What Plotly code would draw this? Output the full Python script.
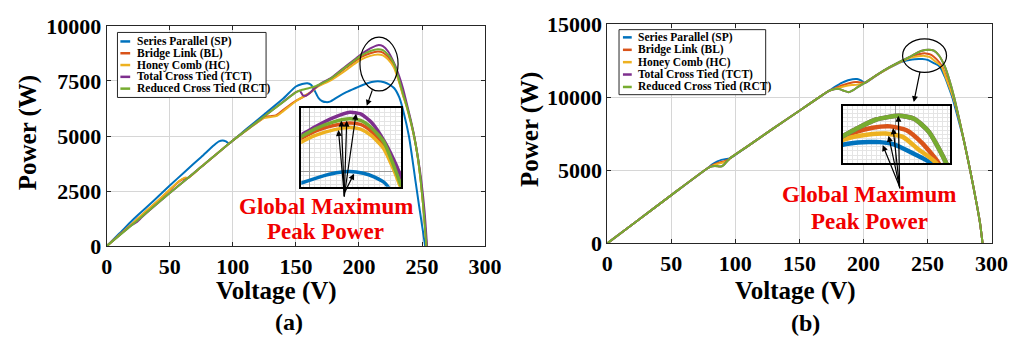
import plotly.graph_objects as go

W, H = 1032, 352
FONT = "Liberation Serif"


def fx(px):
    return px / W


def fy(py):
    return 1 - py / H


NAMES = ["Series Parallel (SP)", "Bridge Link (BL)", "Honey Comb (HC)",
         "Total Cross Tied (TCT)", "Reduced Cross Tied (RCT)"]
COLORS = ["#0072BD", "#D95319", "#EDB120", "#7E2F8E", "#77AC30"]

X_TICKS = [0, 50, 100, 150, 200, 250, 300]
Y_TICKS_A = [0, 2500, 5000, 7500, 10000]
Y_TICKS_B = [0, 5000, 10000, 15000]

# ---------------- (a) P-V curves ----------------
V_SP_a = [0, 10, 20, 25, 37, 50, 62, 75, 85, 89, 92, 94.5, 97, 100, 110, 125, 140, 150, 155, 159,
          162, 165, 168, 171, 174, 177, 183, 190, 197, 204, 210, 215, 220, 224, 228, 232, 235.5,
          239.6, 242, 244.8, 247.5, 250, 252.5]
P_SP_a = [0, 570, 1150, 1420, 2050, 2750, 3380, 4050, 4580, 4760, 4800, 4760, 4660, 4800, 5280,
          5990, 6700, 7250, 7360, 7400, 7330, 7050, 6720, 6580, 6540, 6560, 6770, 6990, 7170, 7340,
          7450, 7490, 7440, 7340, 7170, 6750, 6060, 5000, 4100, 2966, 1900, 950, 0]

V_BL_a = [0, 20, 25, 40, 50, 58, 62, 64.5, 75, 100, 110, 120, 126, 130, 134, 140, 150, 156, 161,
          166, 178, 190, 202, 209, 215, 219, 223, 227.6, 231.5, 235, 238, 241, 243.7, 246.5, 249,
          251.5, 253.7]
P_BL_a = [0, 1000, 1260, 2020, 2550, 2960, 3080, 3100, 3600, 4800, 5230, 5640, 5870, 5900, 5930,
          6190, 6600, 6780, 6950, 7220, 7600, 8110, 8600, 8760, 8833, 8790, 8600, 8220, 7560, 6870,
          6330, 5670, 4990, 4090, 2960, 1500, 0]

V_HC_a = [0, 20, 25, 40, 50, 58, 62, 64.5, 75, 100, 110, 120, 124.8, 130, 135, 140, 150, 157, 162,
          167, 178, 190, 197, 202, 209, 215, 219, 223, 227.6, 231.5, 235, 238, 241, 243.7, 246.5,
          249, 251.5, 253.5]
P_HC_a = [0, 1000, 1270, 2040, 2570, 2980, 3110, 3100, 3600, 4800, 5220, 5640, 5810, 5860, 5920,
          6130, 6580, 6830, 7000, 7230, 7540, 8000, 8300, 8480, 8640, 8707, 8660, 8480, 8120, 7500,
          6820, 6290, 5640, 4970, 4070, 2950, 1500, 0]

V_TCT_a = [0, 20, 24, 28, 50, 75, 100, 110, 125, 140, 150, 153, 155.5, 158, 161, 165, 170, 178,
           190, 197, 202, 209, 215, 219, 223, 228, 232, 235, 238, 241, 244, 247, 249.5, 252, 254]
P_TCT_a = [0, 960, 1100, 1320, 2410, 3600, 4800, 5240, 5900, 6560, 6990, 7060, 6850, 6830, 6950,
           7170, 7390, 7640, 8190, 8500, 8720, 8980, 9127, 9080, 8850, 8300, 7700, 7150, 6450, 5750,
           4950, 3950, 2950, 1600, 0]

V_RCT_a = [0, 25, 50, 75, 100, 110, 125, 140, 150, 155, 160, 165, 170, 178, 190, 202, 209, 215,
           219, 223, 227.6, 231.5, 235, 238, 241, 243.7, 246.5, 249, 251.5, 253.5]
P_RCT_a = [0, 1200, 2410, 3600, 4800, 5240, 5900, 6550, 6980, 7100, 7170, 7250, 7380, 7620, 8150,
           8660, 8860, 8945, 8900, 8700, 8312, 7608, 6900, 6342, 5680, 5000, 4100, 2966, 1500, 0]

# ---------------- (b) P-V curves ----------------
V_SP_b = [0, 25, 50, 78, 82, 86, 89, 92, 94.5, 96, 110, 130, 150, 165, 173, 178, 183, 188, 191.5,
          195, 198, 201, 210, 220, 230, 238, 243, 246, 250, 255, 259.5, 263.5, 266.5, 269.5, 274,
          278.4, 283.5, 288.6, 291, 293]
P_SP_b = [0, 1650, 3300, 5120, 5400, 5600, 5710, 5760, 5790, 5830, 6670, 7880, 9070, 9970, 10430,
          10720, 10980, 11160, 11230, 11240, 11150, 10980, 11480, 12000, 12420, 12580, 12615, 12614,
          12550, 12330, 12100, 11400, 10700, 9950, 8500, 7030, 4910, 2600, 1400, 0]

V_BL_b = [0, 25, 50, 78, 82, 86, 89, 92, 94.5, 96, 110, 130, 150, 165, 173, 178, 183, 188, 192,
          195, 198, 201, 210, 220, 230, 238, 244, 248.7, 253, 257, 261.5, 265, 270.5, 274.5, 278.4,
          283.5, 288.6, 291, 293]
P_BL_b = [0, 1650, 3300, 5120, 5330, 5480, 5560, 5640, 5720, 5830, 6670, 7880, 9070, 9970, 10430,
          10620, 10800, 10940, 11020, 11030, 11010, 10980, 11490, 12020, 12470, 12810, 12960, 12994,
          12900, 12600, 12100, 11300, 9950, 8550, 7030, 4910, 2600, 1400, 0]

V_HC_b = [0, 25, 50, 78, 82, 86, 89, 92, 94.5, 96, 110, 130, 150, 165, 173, 178, 183, 188, 191,
          194, 198, 201, 210, 220, 230, 238, 243, 247.5, 252, 256, 260.9, 264.5, 270.2, 274.5, 278.4,
          283.5, 288.6, 291, 293]
P_HC_b = [0, 1650, 3300, 5120, 5300, 5430, 5500, 5570, 5680, 5830, 6670, 7880, 9070, 9970, 10430,
          10580, 10700, 10800, 10830, 10840, 10900, 10980, 11490, 12010, 12450, 12720, 12800, 12823,
          12740, 12450, 12100, 11300, 9950, 8540, 7030, 4910, 2600, 1400, 0]

V_TCT_b = [0, 25, 50, 78, 81, 84, 86.5, 88.5, 90.5, 93, 96, 110, 130, 150, 165, 173, 177, 181, 185,
           188.5, 192, 196, 201, 210, 220, 230, 236, 240, 245, 251, 255, 259, 263.5, 267, 270.8,
           274.5, 278.4, 283.5, 288.6, 291, 293]
P_TCT_b = [0, 1650, 3300, 5120, 5250, 5290, 5270, 5250, 5330, 5560, 5830, 6670, 7880, 9070, 9970,
           10430, 10540, 10560, 10430, 10340, 10480, 10720, 10980, 11500, 12030, 12500, 12750, 12950,
           13160, 13250, 13180, 12850, 12100, 11200, 10000, 8600, 7030, 4910, 2600, 1400, 0]

V_RCT_b = [0, 25, 50, 78, 81, 84, 86.5, 88.5, 90.5, 93, 96, 110, 130, 150, 165, 173, 177, 181, 185,
           188.5, 192, 196, 201, 210, 220, 230, 236, 240, 245, 251, 255, 259, 263.5, 267, 270.8,
           274.5, 278.4, 283.5, 288.6, 291, 293]
P_RCT_b = [0, 1650, 3300, 5120, 5250, 5290, 5270, 5250, 5330, 5560, 5830, 6670, 7880, 9070, 9970,
           10430, 10540, 10560, 10430, 10340, 10480, 10720, 10980, 11500, 12030, 12500, 12750, 12950,
           13160, 13250, 13180, 12850, 12100, 11200, 10000, 8600, 7030, 4910, 2600, 1400, 0]

SERIES_A = [(V_SP_a, P_SP_a), (V_BL_a, P_BL_a), (V_HC_a, P_HC_a), (V_TCT_a, P_TCT_a), (V_RCT_a, P_RCT_a)]
SERIES_B = [(V_SP_b, P_SP_b), (V_BL_b, P_BL_b), (V_HC_b, P_HC_b), (V_TCT_b, P_TCT_b), (V_RCT_b, P_RCT_b)]

fig = go.Figure()


def add_curves(series, xa, ya, width):
    for (v, p), name, col in zip(series, NAMES, COLORS):
        fig.add_trace(go.Scatter(x=v, y=p, mode="lines", name=name, xaxis=xa, yaxis=ya,
                                 line=dict(color=col, width=width, shape="spline", smoothing=0.6),
                                 showlegend=False, hoverinfo="skip"))


add_curves(SERIES_A, "x", "y", 2)
add_curves(SERIES_B, "x2", "y2", 2)
add_curves(SERIES_A, "x3", "y3", 3.5)
add_curves(SERIES_B, "x4", "y4", 4.5)

tickfont = dict(family=FONT, size=22, color="black", weight="bold")
main_axis = dict(showline=True, mirror="ticks", linecolor="#262626", linewidth=1,
                 ticks="inside", ticklen=4, tickcolor="#262626", tickformat="d",
                 showgrid=True, gridcolor="#d6d6d6", gridwidth=1, zeroline=False,
                 tickfont=tickfont)
inset_axis = dict(showline=True, mirror=True, linecolor="black", linewidth=1.5,
                  ticks="", showticklabels=False, zeroline=False,
                  showgrid=True, gridcolor="#9a9a9a", gridwidth=1)

fig.update_layout(
    width=W, height=H, margin=dict(l=0, r=0, t=0, b=0),
    paper_bgcolor="white", plot_bgcolor="white", showlegend=False,
    font=dict(family=FONT, color="black"),
    xaxis=dict(domain=[fx(103), fx(490)], range=[0, 300], tickvals=X_TICKS, anchor="y", **main_axis),
    yaxis=dict(domain=[fy(252), fy(15)], range=[0, 10000], tickvals=Y_TICKS_A, anchor="x", **main_axis),
    xaxis2=dict(domain=[fx(615), fx(1008)], range=[0, 300], tickvals=X_TICKS, anchor="y2", **main_axis),
    yaxis2=dict(domain=[fy(249), fy(13)], range=[0, 15000], tickvals=Y_TICKS_B, anchor="x2", **main_axis),
    xaxis3=dict(domain=[fx(302), fx(404)], range=[197, 234], anchor="y3", dtick=50, tick0=0,
                minor=dict(dtick=2, showgrid=True, gridcolor="#e4e4e4", gridwidth=0.8), **inset_axis),
    yaxis3=dict(domain=[fy(188), fy(103)], range=[7068, 9254], anchor="x3", dtick=2500, tick0=0,
                minor=dict(dtick=125, showgrid=True, gridcolor="#e4e4e4", gridwidth=0.8), **inset_axis),
    xaxis4=dict(domain=[fx(856), fx(966)], range=[236.2, 264.6], anchor="y4", dtick=50, tick0=0,
                minor=dict(dtick=1.25, showgrid=True, gridcolor="#e4e4e4", gridwidth=0.8), **inset_axis),
    yaxis4=dict(domain=[fy(163), fy(101)], range=[12100, 13490], anchor="x4", dtick=5000, tick0=0,
                minor=dict(dtick=100, showgrid=True, gridcolor="#e4e4e4", gridwidth=0.8), **inset_axis),
)

shapes = []
annotations = []

# ellipses marking the peak region
for (x0, y0, x1, y1) in [(362, 27, 401, 85), (917, 29, 962, 65)]:
    shapes.append(dict(type="circle", xref="paper", yref="paper",
                       x0=fx(x0), x1=fx(x1), y0=fy(y1), y1=fy(y0),
                       line=dict(color="black", width=1.2)))

# legends
legend_boxes = [
    dict(box=(114, 22, 266, 92), sample=(117, 127), text_x=132, rows=[31.7, 44.4, 57.1, 69.8, 82.5]),
    dict(box=(627, 19, 777, 89), sample=(631, 640), text_x=644, rows=[27.3, 40.7, 54, 67.3, 80.7]),
]
for lg in legend_boxes:
    bx0, by0, bx1, by1 = lg["box"]
    shapes.append(dict(type="rect", xref="paper", yref="paper", x0=fx(bx0), x1=fx(bx1),
                       y0=fy(by1), y1=fy(by0), line=dict(color="#262626", width=1),
                       fillcolor="white", layer="above"))
    for name, col, ry in zip(NAMES, COLORS, lg["rows"]):
        shapes.append(dict(type="line", xref="paper", yref="paper", x0=fx(lg["sample"][0]),
                           x1=fx(lg["sample"][1]), y0=fy(ry), y1=fy(ry),
                           line=dict(color=col, width=2.5)))
        annotations.append(dict(text="<b>" + name + "</b>", xref="paper", yref="paper",
                                x=fx(lg["text_x"]), y=fy(ry),
                                xanchor="left", yanchor="middle", showarrow=False,
                                font=dict(family=FONT, size=11.5, color="black")))


def label(text, px, py, size, angle=0, color="black"):
    annotations.append(dict(text="<b>" + text + "</b>", xref="paper", yref="paper", x=fx(px), y=fy(py),
                            xanchor="center", yanchor="middle", showarrow=False, textangle=angle,
                            font=dict(family=FONT, size=size, color=color)))


label("Voltage (V)", 277, 300, 25)
label("Voltage (V)", 807, 300, 25)
label("Power (W)", 22, 130, 25, angle=-90)
label("Power (W)", 536, 127, 25, angle=-90)
label("(a)", 289, 334, 24)
label("(b)", 818, 335, 24)

RED = "rgb(240,0,0)"
label("Global Maximum", 327, 209, 23, color=RED)
label("Peak Power", 327, 236, 23, color=RED)
label("Global Maximum", 883, 196, 23, color=RED)
label("Peak Power", 883, 225, 23, color=RED)


def arrow(tail, head):
    annotations.append(dict(text="", xref="paper", yref="paper", x=fx(head[0]), y=fy(head[1]),
                            ax=tail[0] - head[0], ay=tail[1] - head[1], showarrow=True,
                            arrowhead=2, arrowsize=1, arrowwidth=1.2, arrowcolor="black",
                            standoff=0, startstandoff=0))


# arrows from the label to each peak in the insets
for head in [(340, 127), (343, 117), (348.5, 117), (358, 109.5), (356, 174)]:
    arrow((346, 194), head)
for head in [(896.7, 143.3), (902.7, 133.3), (907.3, 125), (912.7, 111.7)]:
    arrow((914, 186), head)
# arrows from the ellipses to the insets
arrow((375, 84), (369, 101))
arrow((935, 65), (928.5, 97))

fig.update_layout(shapes=shapes, annotations=annotations)
fig.write_html("out.html")
